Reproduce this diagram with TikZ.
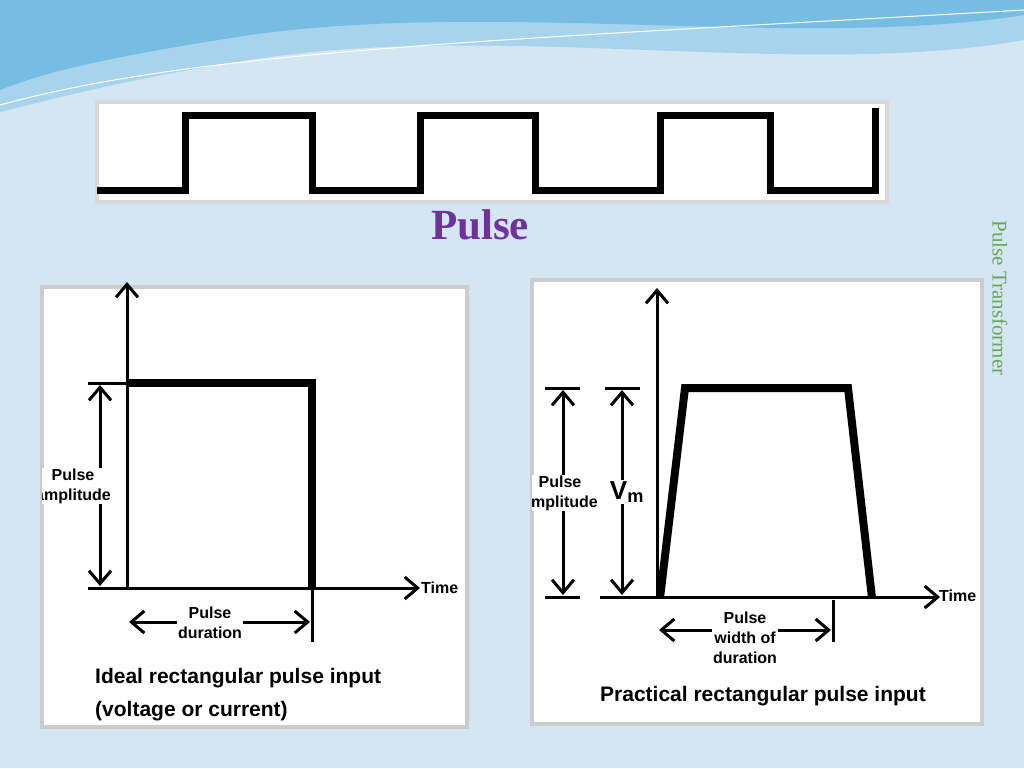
\documentclass[tikz,border=0pt]{standalone}
\usepackage{fontspec}
\setmainfont{Liberation Sans}
\newfontfamily\serifx{Liberation Serif}
\usetikzlibrary{arrows.meta}
\definecolor{bgc}{HTML}{D3E6F2}
\definecolor{bandc}{HTML}{5FB0DD}
\definecolor{titlec}{HTML}{7030A0}
\definecolor{sidec}{HTML}{6AA84F}
\tikzset{
 wave/.style={line width=7pt,line join=miter},
 ax/.style={line width=3pt,-{Straight Barb[length=13pt,width=22pt,line width=3pt]}},
 dbl/.style={line width=3pt,{Straight Barb[length=13pt,width=22pt,line width=3pt]}-{Straight Barb[length=13pt,width=22pt,line width=3pt]}},
 tick/.style={line width=3pt},
 pulse/.style={line width=8pt,line join=miter},
 lbl/.style={font=\bfseries\fontsize{16}{20}\selectfont,align=center,inner sep=1pt},
 captext/.style={font=\bfseries\fontsize{21}{23}\selectfont,anchor=west,inner sep=0pt},
 panel/.style={fill=white,draw=gray!40,line width=4pt}
}
\begin{document}
\begin{tikzpicture}[x=1pt,y=-1pt]
\useasboundingbox (0,0) rectangle (1024,768);
\fill[bgc] (0,0) rectangle (1024,768);
\fill[bandc!55] (0,0) -- (1024,0) -- (1024,40) .. controls (800,80) and (500,20) .. (250,60) .. controls (120,80) and (50,100) .. (0,112) -- cycle;
\fill[bandc!85] (0,0) -- (1024,0) -- (1024,15) .. controls (800,50) and (500,0) .. (250,35) .. controls (120,55) and (50,70) .. (0,90) -- cycle;
\draw[white,line width=1pt] (0,105) .. controls (200,50) and (500,40) .. (1024,10);
% top wave
\node[panel,draw=gray!30,minimum width=790,minimum height=100,anchor=north west,inner sep=0] (tw) at (95,100) {};
\draw[wave] (97,190) -- (185,190) -- (185,115) -- (312,115) -- (312,190) -- (420,190) -- (420,115) -- (535,115) -- (535,190) -- (660,190) -- (660,115) -- (770,115) -- (770,190) -- (875,190) -- (875,108);
\node[font=\serifx\bfseries\fontsize{43}{46}\selectfont,text=titlec] (title) at (480,225) {Pulse};
\node[font=\serifx\fontsize{21}{23}\selectfont,text=sidec,rotate=-90] (side) at (1000,298) {Pulse Transformer};
% left panel
\node[panel,minimum width=425,minimum height=440,anchor=north west,inner sep=0] (lp) at (40,285) {};
\coordinate (la0) at (127,590); \coordinate (la1) at (127,282);
\draw[ax] (la0) -- (la1);
\coordinate (lh0) at (88,588); \coordinate (lh1) at (420,588);
\draw[ax] (lh0) -- (lh1);
\node[lbl,anchor=west] (lt) at (420,588) {Time};
\draw[pulse] (127,383) -- (312,383) -- (312,590);
\draw[tick] (88,383) -- (130,383);
\draw[dbl] (100,385) -- (100,586);
\begin{scope}
\clip (42,300) rectangle (130,560);
\node[lbl,fill=white] (lamp) at (73,486) {Pulse\\amplitude};
\end{scope}
\draw[tick] (312,590) -- (312,642);
\draw[dbl] (129,622) -- (310,622);
\node[lbl,fill=white] (ldur) at (210,623) {Pulse\\duration};
\node[captext] (lc1) at (95,678) {Ideal rectangular pulse input};
\node[captext] (lc2) at (95,711) {(voltage or current)};
% right panel
\node[panel,minimum width=450,minimum height=444,anchor=north west,inner sep=0] (rp) at (530,278) {};
\draw[ax] (657,598) -- (657,288);
\draw[ax] (600,597) -- (940,597);
\node[lbl,anchor=west] (rt) at (938,596) {Time};
\draw[pulse] (660,598) -- (685,388) -- (848,388) -- (872,598);
\draw[tick] (545,388) -- (580,388);
\draw[tick] (605,388) -- (640,388);
\draw[tick] (545,597) -- (580,597);
\draw[tick] (605,597) -- (640,597);
\draw[dbl] (563,390) -- (563,595);
\draw[dbl] (622,390) -- (622,595);
\begin{scope}
\clip (532,300) rectangle (601,560);
\node[lbl,fill=white] (ramp) at (560,493) {Pulse\\amplitude};
\end{scope}
\node[font=\bfseries\fontsize{26}{28}\selectfont,fill=white,inner sep=1pt] (vm) at (627,492) {V\textsubscript{m}};
\draw[tick] (833,600) -- (833,642);
\draw[dbl] (659,630) -- (831,630);
\node[lbl,fill=white] (rdur) at (745,638) {Pulse\\width of\\duration};
\node[captext] (rc) at (600,696) {Practical rectangular pulse input};
\end{tikzpicture}
\end{document}
